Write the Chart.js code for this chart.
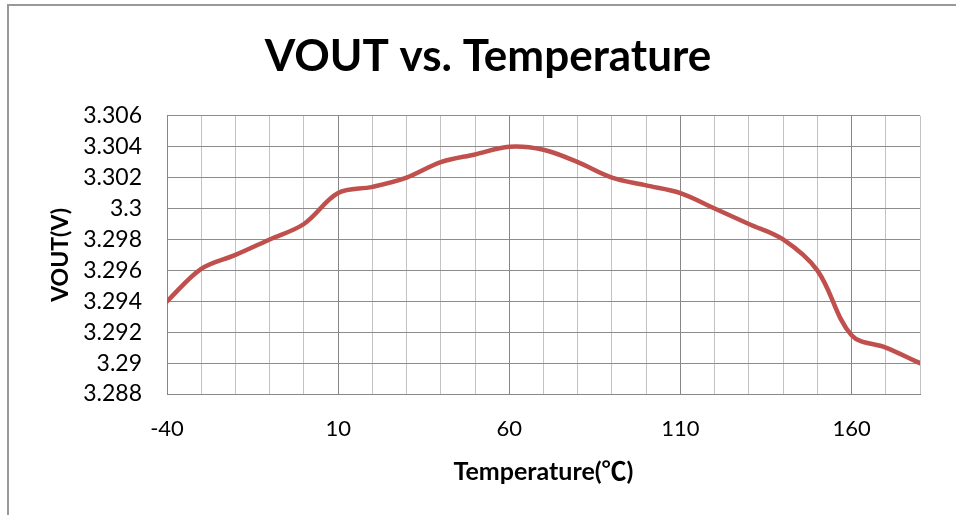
<!DOCTYPE html>
<html><head><meta charset="utf-8">
<script src="https://cdn.jsdelivr.net/npm/chart.js@4/dist/chart.umd.min.js"></script>
<style>html,body{margin:0;padding:0;background:#fff;overflow:hidden}#wrap{width:956px;height:515px;position:relative;overflow:hidden}</style>
</head><body><div id="wrap"><canvas id="c" width="976" height="515"></canvas></div>
<script>
const temperatures = [-40,-30,-20,-10,0,10,20,30,40,50,60,70,80,90,100,110,120,130,140,150,160,170,180];
const voutValues = [3.294,3.2961,3.297,3.298,3.299,3.301,3.3014,3.302,3.303,3.3035,3.304,3.3038,3.303,3.302,3.3015,3.301,3.300,3.299,3.298,3.296,3.2918,3.291,3.290];
const xGridValues = [-40,-30,-20,-10,0,10,20,30,40,50,60,70,80,90,100,110,120,130,140,150,160,170,180];
const xTickLabels = ['-40','10','60','110','160'];
const yTickLabels = ['3.288','3.29','3.292','3.294','3.296','3.298','3.3','3.302','3.304','3.306'];
const yTickValues = yTickLabels.map(Number);

const FONT = "Lato, 'Noto Sans CJK SC', sans-serif";

const frame = {
  id: 'frame',
  beforeDraw(chart) {
    const ctx = chart.ctx;
    ctx.save();
    ctx.fillStyle = '#fff';
    ctx.fillRect(0, 0, chart.width, chart.height);
    ctx.strokeStyle = '#999';
    ctx.lineWidth = 2;
    ctx.strokeRect(8, 5, 2000, 2000);
    ctx.restore();
  }
};

new Chart(document.getElementById('c'), {
  type: 'line',
  data: {
    datasets: [{
      data: temperatures.map((t, i) => ({x: t, y: voutValues[i]})),
      borderColor: '#C0504D',
      borderWidth: 4.5,
      borderCapStyle: 'round',
      pointRadius: 0,
      tension: 0.35,
      fill: false
    }]
  },
  options: {
    responsive: false,
    devicePixelRatio: 1,
    animation: false,
    layout: {padding: {left: 0, right: 0, top: 0, bottom: 0}},
    plugins: {
      legend: {display: false},
      tooltip: {enabled: false},
      title: {
        display: true,
        text: 'VOUT vs. Temperature',
        color: '#000',
        font: {family: FONT, size: 44, weight: 'bold', lineHeight: 1.2},
        padding: {top: 30, bottom: 33}
      }
    },
    scales: {
      x: {
        type: 'linear',
        min: -40, max: 180,
        afterBuildTicks: s => { s.ticks = xGridValues.map(v => ({value: v})); },
        afterFit: s => { s.height = 121; },
        ticks: {
          autoSkip: false, maxRotation: 0, minRotation: 0,
          color: '#000', padding: 22,
          font: {family: FONT, size: 22},
          callback: v => xTickLabels.includes(String(v)) ? String(v) : ''
        },
        grid: {
          drawTicks: false,
          lineWidth: 1,
          color: c => (c.tick && xTickLabels.includes(String(c.tick.value))) ? '#878787' : '#c3c3c3'
        },
        border: {color: '#878787', width: 1},
        title: {
          display: true, text: 'Temperature(℃)', color: '#000',
          font: {family: FONT, size: 25, weight: 'bold', lineHeight: 1.2},
          padding: {top: 0, bottom: 28}
        }
      },
      y: {
        min: 3.288, max: 3.306,
        afterBuildTicks: s => { s.ticks = yTickValues.map(v => ({value: v})); },
        afterFit: s => { s.width = 167; },
        ticks: {
          color: '#000', padding: 25,
          font: {family: FONT, size: 23},
          callback: (v, i) => yTickLabels[i]
        },
        grid: {drawTicks: false, lineWidth: 1, color: '#8c8c8c'},
        border: {color: '#878787', width: 1},
        title: {
          display: true, text: 'VOUT(V)', color: '#000',
          font: {family: FONT, size: 23, weight: 'bold', lineHeight: 0.1},
          padding: {top: 59.5, bottom: 0}
        }
      },
      yRight: {
        position: 'right',
        display: true,
        afterFit: s => { s.width = 56; },
        ticks: {display: false},
        grid: {display: false, drawTicks: false},
        border: {display: false}
      }
    }
  },
  plugins: [frame]
});
</script></body></html>
